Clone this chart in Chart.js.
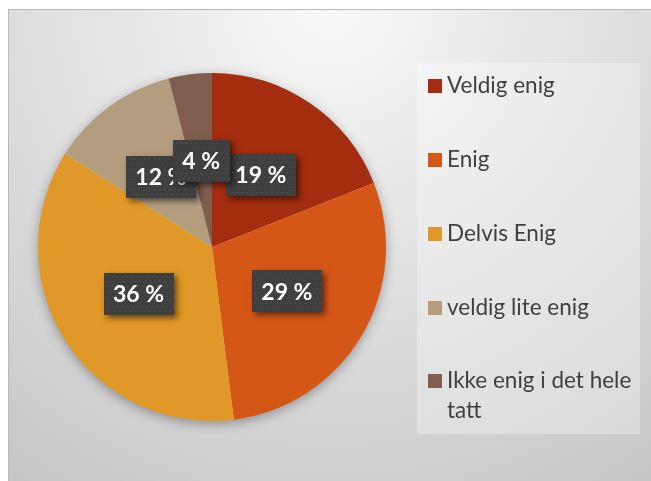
<!DOCTYPE html>
<html>
<head>
<meta charset="utf-8">
<script src="https://cdn.jsdelivr.net/npm/chart.js@4/dist/chart.umd.min.js"></script>
<style>
html,body{margin:0;padding:0;background:#fff;}
#wrap{position:relative;width:651px;height:481px;}
</style>
</head>
<body>
<div id="wrap"><canvas id="c"></canvas></div>
<script>
const categories = ["Veldig enig", "Enig", "Delvis Enig", "veldig lite enig", "Ikke enig i det hele tatt"];
const legendLines = [["Veldig enig"], ["Enig"], ["Delvis Enig"], ["veldig lite enig"], ["Ikke enig i det hele", "tatt"]];
const values = [19, 29, 36, 12, 4];
const colors = ["#A42D0F", "#D55717", "#E09828", "#B49D7E", "#7F5E50"];

const bgPlugin = {
  id: 'bg',
  beforeDraw(chart) {
    const ctx = chart.ctx;
    ctx.save();
    ctx.fillStyle = '#ffffff';
    ctx.fillRect(0, 0, 651, 481);
    const g = ctx.createRadialGradient(330, 0, 0, 330, 0, 580);
    g.addColorStop(0, '#f9f9f9');
    g.addColorStop(1, '#c6c6c6');
    ctx.fillStyle = g;
    ctx.fillRect(8, 9, 643, 472);
    ctx.strokeStyle = '#b9b9b9';
    ctx.lineWidth = 1;
    ctx.beginPath();
    ctx.moveTo(8.5, 481);
    ctx.lineTo(8.5, 9.5);
    ctx.lineTo(651, 9.5);
    ctx.stroke();
    ctx.fillStyle = 'rgba(255,255,255,0.3)';
    ctx.fillRect(417, 63, 223, 371);
    ctx.restore();
  },
  beforeDatasetsDraw(chart) {
    const arc = chart.getDatasetMeta(0).data[0];
    if (!arc) return;
    const ctx = chart.ctx;
    ctx.save();
    ctx.shadowColor = 'rgba(0,0,0,0.35)';
    ctx.shadowBlur = 12;
    ctx.shadowOffsetX = 0;
    ctx.shadowOffsetY = 3;
    ctx.fillStyle = '#d0d0d0';
    ctx.beginPath();
    ctx.arc(arc.x, arc.y, arc.outerRadius - 0.5, 0, Math.PI * 2);
    ctx.fill();
    ctx.restore();
  },
  afterDatasetsDraw(chart) {
    const ctx = chart.ctx;
    const meta = chart.getDatasetMeta(0);
    ctx.save();
    ctx.font = 'bold 23px Lato';
    meta.data.forEach((el, i) => {
      const p = el.getCenterPoint();
      const txt = values[i] + ' %';
      const w = Math.round(ctx.measureText(txt).width + 19), h = 42;
      const x0 = Math.round(p.x - w / 2), y0 = Math.round(p.y - h / 2);
      ctx.save();
      ctx.shadowColor = 'rgba(0,0,0,0.55)';
      ctx.shadowBlur = 6;
      ctx.shadowOffsetX = 3;
      ctx.shadowOffsetY = 3;
      ctx.fillStyle = '#3f3f3f';
      ctx.fillRect(x0, y0, w, h);
      ctx.restore();
      ctx.fillStyle = 'rgba(110,110,110,0.55)';
      for (let yy = y0 + 3; yy < y0 + h; yy += 5) {
        for (let xx = x0 + 3 + ((yy - y0) % 10 === 3 ? 0 : 2.5); xx < x0 + w; xx += 5) {
          ctx.fillRect(xx, yy, 1, 1);
        }
      }
      ctx.fillStyle = '#ffffff';
      ctx.textAlign = 'center';
      ctx.textBaseline = 'middle';
      ctx.fillText(txt, p.x, p.y + 1);
    });
    ctx.restore();
  },
  afterDraw(chart) {
    const ctx = chart.ctx;
    ctx.save();
    const rowY = [86, 160, 234, 308, 381];
    ctx.font = '22.5px Lato';
    ctx.textBaseline = 'middle';
    ctx.textAlign = 'left';
    legendLines.forEach((lines, i) => {
      ctx.fillStyle = colors[i];
      ctx.fillRect(428, rowY[i] - 7, 14, 14);
      ctx.fillStyle = '#404040';
      lines.forEach((t, j) => {
        ctx.fillText(t, 447, rowY[i] + j * 30);
      });
    });
    ctx.restore();
  }
};

new Chart(document.getElementById('c'), {
  type: 'pie',
  data: {
    labels: categories,
    datasets: [{
      data: values,
      backgroundColor: colors,
      borderWidth: 0
    }]
  },
  options: {
    responsive: true,
    maintainAspectRatio: false,
    animation: false,
    layout: { padding: { left: 38, right: 265, top: 73, bottom: 60 } },
    plugins: {
      legend: { display: false },
      tooltip: { enabled: false }
    }
  },
  plugins: [bgPlugin]
});
</script>
</body>
</html>
